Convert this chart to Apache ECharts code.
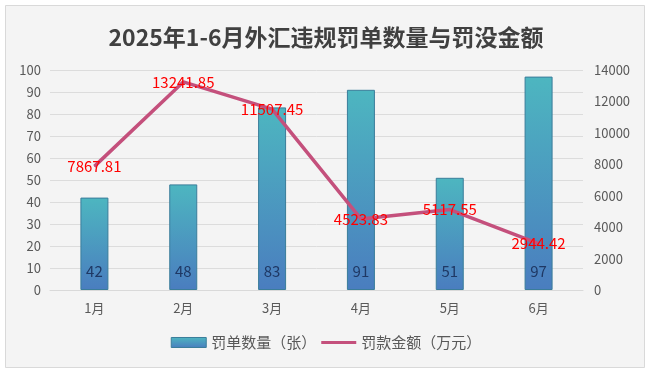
<!DOCTYPE html>
<html><head><meta charset="utf-8">
<script src="https://cdn.jsdelivr.net/npm/echarts@6/dist/echarts.min.js"></script>
<style>html,body{margin:0;padding:0;background:#fff}#c{width:652px;height:375px}</style>
</head><body><div id="c"></div>
<script>
const categories = ['1月','2月','3月','4月','5月','6月'];
const ticketCounts = [42, 48, 83, 91, 51, 97];
const fineAmounts = [7867.81, 13241.85, 11507.45, 4523.83, 5117.55, 2944.42];
const titleText = '2025年1-6月外汇违规罚单数量与罚没金额';
const barName = '罚单数量（张）';
const lineName = '罚款金额（万元）';

const font = '"Noto Sans CJK SC", "Noto Sans", sans-serif';
const chart = echarts.init(document.getElementById('c'), null, {renderer: 'canvas'});
const barGrad = new echarts.graphic.LinearGradient(0, 0, 0, 1, [
  {offset: 0, color: '#4db6c0'},
  {offset: 1, color: '#4a7dbf'}
]);
chart.setOption({
  backgroundColor: '#ffffff',
  animation: false,
  textStyle: {fontFamily: font},
  graphic: [{
    type: 'rect', z: -10,
    shape: {x: 5.5, y: 5.5, width: 639, height: 362},
    style: {fill: '#f4f4f4', stroke: '#d9d9d9', lineWidth: 1}
  }],
  title: {
    text: titleText, left: 'center', top: 21,
    textStyle: {fontFamily: font, fontSize: 23, fontWeight: 'bold', color: '#404040'}
  },
  grid: {left: 50, right: 69, top: 70, bottom: 85},
  legend: {
    bottom: 20, left: 'center', itemGap: 5, itemWidth: 35, itemHeight: 10,
    textStyle: {fontFamily: font, fontSize: 15, color: '#595959'},
    data: [
      {name: barName, icon: 'rect', itemStyle: {color: barGrad, borderColor: '#3a7d9a', borderWidth: 1}},
      {name: lineName, icon: 'path://M0,0 L0,0 M0,10 L0,10 M0,3.5 L36,3.5 L36,6.5 L0,6.5 Z',
        itemStyle: {color: '#c4507c', borderWidth: 0}}
    ]
  },
  xAxis: {
    type: 'category', data: categories,
    axisLine: {lineStyle: {color: '#d9d9d9'}},
    axisTick: {show: false},
    axisLabel: {color: '#595959', fontSize: 13, margin: 12, fontFamily: font}
  },
  yAxis: [{
    type: 'value', min: 0, max: 100, interval: 10,
    axisLine: {show: false}, axisTick: {show: false},
    axisLabel: {color: '#595959', fontSize: 13, margin: 9, fontFamily: font},
    splitLine: {lineStyle: {color: '#dcdcdc', width: 1}}
  }, {
    type: 'value', min: 0, max: 14000, interval: 2000,
    axisLine: {show: false}, axisTick: {show: false},
    axisLabel: {color: '#595959', fontSize: 13, margin: 11, fontFamily: font, formatter: v => String(v)},
    splitLine: {show: false}
  }],
  series: [{
    name: barName, type: 'bar', data: ticketCounts, barWidth: 28,
    itemStyle: {color: barGrad, borderColor: '#3a7d9a', borderWidth: 1},
    label: {show: true, position: 'insideBottom', distance: 11, color: '#1f3864', fontSize: 15, fontFamily: font}
  }, {
    name: lineName, type: 'line', yAxisIndex: 1, data: fineAmounts,
    symbol: 'circle', symbolSize: 1, showSymbol: true, z: 5,
    lineStyle: {color: '#c4507c', width: 3.5},
    itemStyle: {color: '#c4507c'},
    label: {show: true, position: 'top', offset: [0, 13], color: '#ff0000', fontSize: 15, fontFamily: font,
      formatter: p => p.value.toFixed(2)}
  }]
});
</script></body></html>
